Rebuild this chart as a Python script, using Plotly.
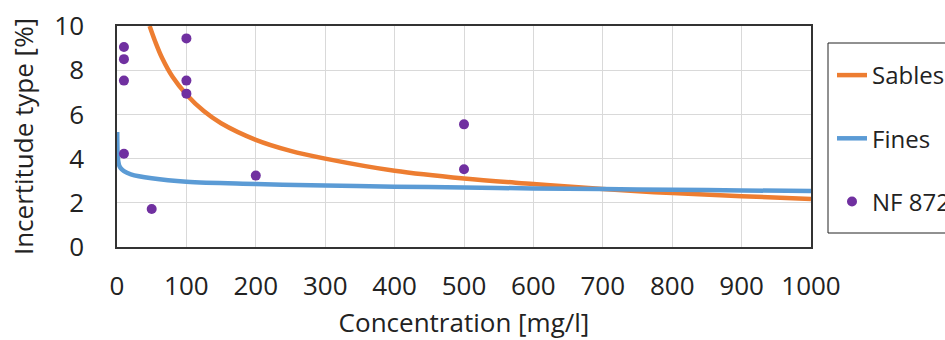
import plotly.graph_objects as go

# Trend curve "Sables"
sables_x = [47, 55, 65, 80, 100, 125, 150, 200, 250, 300, 400, 500, 600, 700, 800, 900, 1000]
sables_y = [10.0, 9.3, 8.55, 7.7, 6.9, 6.15, 5.6, 4.85, 4.35, 4.0, 3.45, 3.1, 2.85, 2.62, 2.44, 2.3, 2.17]

# Trend curve "Fines"
fines_x = [0.3, 0.6, 1, 2, 3, 5, 10, 20, 50, 100, 200, 300, 400, 500, 600, 700, 800, 900, 1000]
fines_y = [5.2, 4.5, 4.1, 3.85, 3.7, 3.58, 3.43, 3.29, 3.11, 2.95, 2.85, 2.78, 2.73, 2.69, 2.65, 2.62, 2.59, 2.56, 2.53]

# Measured points "NF 872"
nf_x = [10, 10, 10, 10, 50, 100, 100, 100, 200, 500, 500]
nf_y = [9.05, 8.5, 7.53, 4.22, 1.72, 9.44, 7.53, 6.94, 3.23, 5.55, 3.52]

x_ticks = [0, 100, 200, 300, 400, 500, 600, 700, 800, 900, 1000]
y_ticks = [0, 2, 4, 6, 8, 10]

FONT = "Open Sans"
TXT = "#222222"
FS = 26
LFS = 24

fig = go.Figure()
fig.add_trace(go.Scatter(x=sables_x, y=sables_y, mode="lines", name="Sables",
                         line=dict(color="#ED7D31", width=4.5, shape="spline"),
                         legendgroup="a"))
fig.add_trace(go.Scatter(x=fines_x, y=fines_y, mode="lines", name="Fines",
                         line=dict(color="#5B9BD5", width=4.5, shape="spline"),
                         legendgroup="b"))
fig.add_trace(go.Scatter(x=nf_x, y=nf_y, mode="markers", name="NF 872",
                         marker=dict(color="#7030A0", size=10),
                         legendgroup="c"))

# legend frame (extends past the right edge like the reference)
fig.add_shape(type="rect", xref="paper", yref="paper",
              x0=(828 - 117) / 694, x1=(1000 - 117) / 694,
              y0=(247 - 233) / 221, y1=(247 - 43) / 221,
              line=dict(color="#222222", width=1), fillcolor="rgba(0,0,0,0)",
              layer="above")

fig.update_layout(
    width=945, height=340,
    margin=dict(l=117, r=134, t=26, b=93, autoexpand=False),
    paper_bgcolor="white", plot_bgcolor="white",
    font=dict(family=FONT, size=FS, color=TXT),
    showlegend=True,
    legend=dict(x=832 / 945, y=(340 - 53) / 340,
                xref="container", yref="container",
                xanchor="left", yanchor="top",
                bgcolor="rgba(0,0,0,0)", borderwidth=0,
                tracegroupgap=29, font=dict(size=LFS, family=FONT, color=TXT),
                itemwidth=30),
)
fig.update_xaxes(range=[0, 1000], tickvals=x_ticks, ticktext=[str(v) for v in x_ticks],
                 showgrid=True, gridcolor="#d9d9d9", gridwidth=1, automargin=False,
                 showline=True, linecolor="#333333", linewidth=1.5, mirror=True,
                 zeroline=False, ticks="", ticklabelstandoff=15, ticklabeloverflow="allow",
                 title=dict(text="Concentration [mg/l]", standoff=21,
                            font=dict(size=FS, family=FONT, color=TXT)),
                 tickfont=dict(size=FS, family=FONT, color=TXT))
fig.update_yaxes(range=[0, 10], tickvals=y_ticks, ticktext=[str(v) for v in y_ticks],
                 showgrid=True, gridcolor="#d9d9d9", gridwidth=1, automargin=False,
                 showline=True, linecolor="#333333", linewidth=1.5, mirror=True,
                 zeroline=False, ticks="", ticklabelstandoff=26, ticklabeloverflow="allow",
                 title=dict(text="Incertitude type [%]", standoff=13,
                            font=dict(size=FS, family=FONT, color=TXT)),
                 tickfont=dict(size=FS, family=FONT, color=TXT))

fig.write_html("out.html", config={"displayModeBar": False},
               post_script="document.body.style.margin='0';document.body.style.overflow='hidden';")
